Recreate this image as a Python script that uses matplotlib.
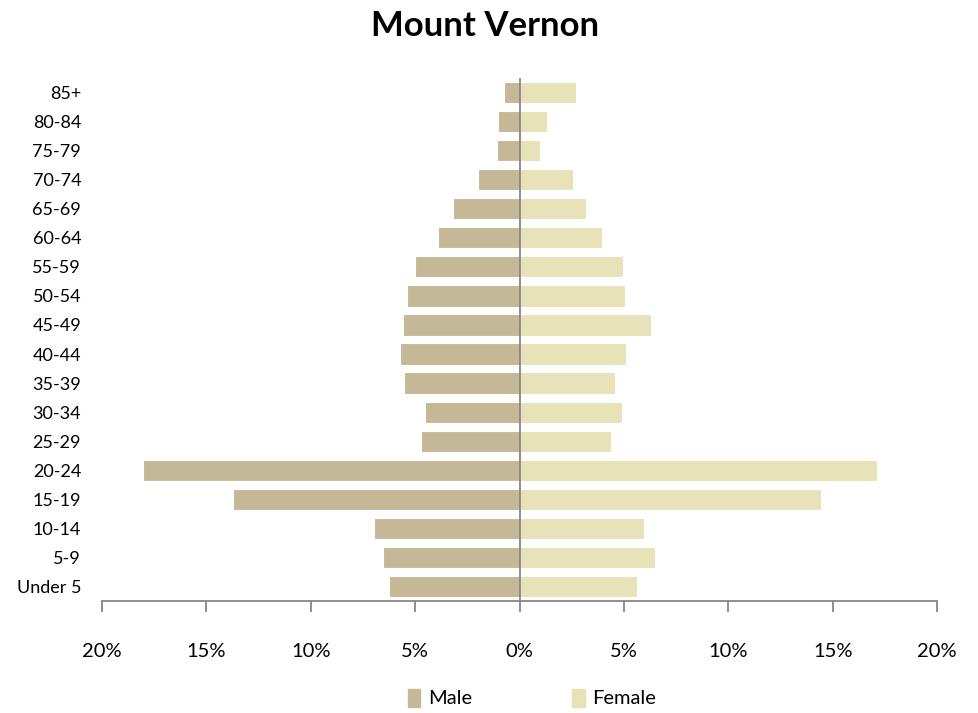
import matplotlib
matplotlib.use("Agg")
import matplotlib.pyplot as plt
from matplotlib.ticker import FuncFormatter
from matplotlib.patches import Patch

categories = ["Under 5", "5-9", "10-14", "15-19", "20-24", "25-29", "30-34", "35-39",
              "40-44", "45-49", "50-54", "55-59", "60-64", "65-69", "70-74", "75-79",
              "80-84", "85+"]
male = [6.27, 6.56, 6.99, 13.73, 18.04, 4.74, 4.55, 5.55, 5.74, 5.6, 5.4, 5.0,
        3.9, 3.2, 2.0, 1.1, 1.05, 0.72]
female = [5.65, 6.51, 5.98, 14.45, 17.13, 4.4, 4.93, 4.59, 5.12, 6.32, 5.07, 4.98,
          3.97, 3.2, 2.58, 0.96, 1.34, 2.73]
xticks = [-20, -15, -10, -5, 0, 5, 10, 15, 20]

male_color = "#C4B896"
female_color = "#E8E2B8"

plt.rcParams['font.family'] = ['Lato', 'DejaVu Sans']

fig = plt.figure(figsize=(9.79, 7.13), dpi=100)
ax = fig.add_axes([102/979, 1-601/713, (937-102)/979, (601-78)/713])

y = list(range(len(categories)))
ax.barh(y, [-m for m in male], height=0.73, color=male_color, edgecolor="white", linewidth=0.8)
ax.barh(y, female, height=0.73, color=female_color, edgecolor="white", linewidth=0.8)

ax.set_xlim(-20, 20)
ax.set_ylim(-0.5, len(categories) - 0.5)
ax.set_xticks(xticks)
ax.xaxis.set_major_formatter(FuncFormatter(lambda v, p: f"{abs(int(round(v)))}%"))
ax.set_yticks(y)
ax.set_yticklabels(categories)
ax.tick_params(axis='y', length=0, pad=15, labelsize=13)
ax.tick_params(axis='x', direction='out', length=8, width=1.3, color='#868686', pad=22, labelsize=14.5)

for s in ['top', 'right', 'left']:
    ax.spines[s].set_visible(False)
ax.spines['bottom'].set_color('#868686')
ax.spines['bottom'].set_linewidth(1.3)
ax.axvline(0, color='#868686', linewidth=1.3, zorder=3)

fig.text(485/979, 1-26/713, "Mount Vernon", ha='center', va='center', fontsize=25, fontweight='bold')

handles = [Patch(color=male_color, label="Male"), Patch(color=female_color, label="Female")]
fig.legend(handles=handles, loc='center', bbox_to_anchor=(532/979, 1-698/713), ncol=2,
           frameon=False, fontsize=14.5, handlelength=0.6, handleheight=1.0,
           handletextpad=0.4, columnspacing=5.0)

fig.savefig("out.png", dpi=100)
